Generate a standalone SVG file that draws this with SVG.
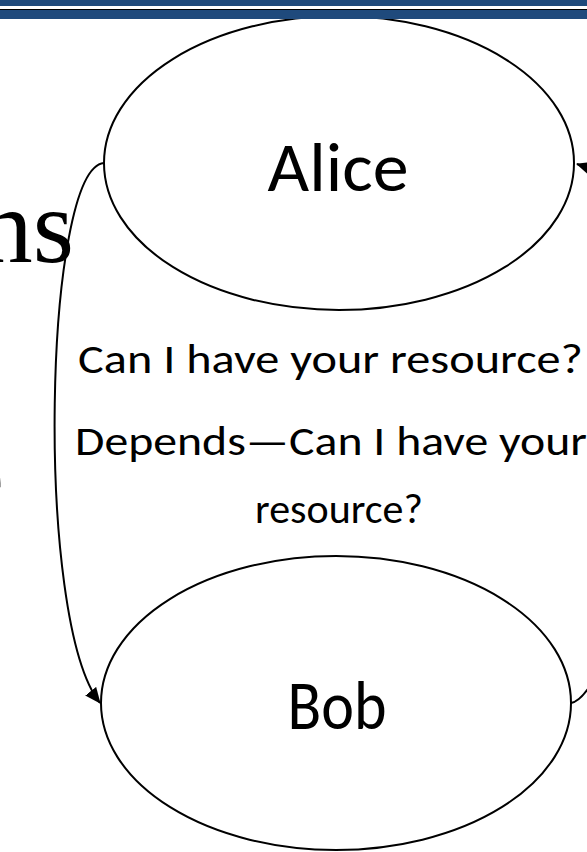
<svg xmlns="http://www.w3.org/2000/svg" width="587" height="852" viewBox="0 0 587 852">
  <style>
    .node { fill: #ffffff; stroke: #000000; stroke-width: 2; }
    .label { font-family: Carlito, Lato, "Open Sans", sans-serif; fill: #000000; }
    .big { font-size: 70px; }
    .msg { font-size: 42px; }
    .serif { font-family: "Liberation Serif", "Times New Roman", serif; font-size: 106px; fill: #000000; }
    .conn { fill: none; stroke: #000000; stroke-width: 2; }
    .bar { fill: #1f4a7c; }
  </style>
  <defs>
    <marker id="arrow" markerUnits="userSpaceOnUse" markerWidth="16" markerHeight="14" viewBox="0 0 16 14" refX="15" refY="7" orient="auto">
      <path d="M0,0 L16,7 L0,14 z" fill="#000000"/>
    </marker>
  </defs>
  <rect x="0" y="0" width="587" height="852" fill="#ffffff"/>

  <!-- background slide text fragments -->
  <text class="serif" x="74" y="262" text-anchor="end">ns</text>
  <text class="serif" x="4" y="512" text-anchor="end">e</text>

  <g id="alice">
    <ellipse class="node" cx="339" cy="163" rx="235" ry="147"/>
    <text class="label big" x="338" y="191" text-anchor="middle" textLength="141" lengthAdjust="spacingAndGlyphs">Alice</text>
  </g>

  <g id="bob">
    <ellipse class="node" cx="336" cy="703" rx="235" ry="147"/>
    <text class="label big" x="337" y="729" text-anchor="middle" textLength="99" lengthAdjust="spacingAndGlyphs">Bob</text>
  </g>

  <g id="messages">
    <text class="label msg" x="78" y="373" textLength="505" lengthAdjust="spacingAndGlyphs">Can I have your resource?</text>
    <text class="label msg" x="75" y="455" textLength="512" lengthAdjust="spacingAndGlyphs">Depends—Can I have your</text>
    <text class="label msg" x="339" y="523" text-anchor="middle">resource?</text>
  </g>

  <g id="connectors">
    <path class="conn" d="M104,163 C44,168 34,620 100,703" marker-end="url(#arrow)"/>
    <path class="conn" d="M571,703 C596,698 640,600 640,430 C640,260 620,178 577,164" marker-end="url(#arrow)"/>
  </g>

  <!-- top header bars -->
  <rect class="bar" x="0" y="0" width="587" height="6"/>
  <rect x="0" y="6" width="587" height="3" fill="#ffffff"/>
  <rect x="0" y="9" width="587" height="1" fill="#000000"/>
  <rect class="bar" x="0" y="10" width="587" height="9"/>
</svg>
